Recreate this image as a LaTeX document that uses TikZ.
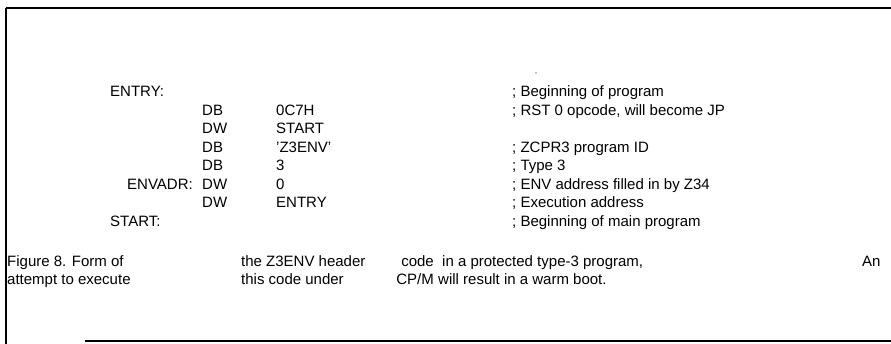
\documentclass[tikz,border=0pt]{standalone}
\usepackage{fontspec}
\setmainfont{Liberation Sans}
\usepackage{tikz}

\tikzset{
  asm/.style={anchor=base west, inner sep=0pt, font=\fontsize{15}{17}\selectfont},
  frameline/.style={line width=1.3pt, black}
}

\begin{document}
\begin{tikzpicture}[x=1pt,y=-1pt]
            % Page size
            \useasboundingbox (0,0) rectangle (891,344);

            % Frame (top, left and bottom rules of the scan)
            \draw[frameline] (6,8) -- (891,8);
            \draw[frameline] (6,8) -- (6,344);
            \draw[frameline] (85,341) -- (891,341);
            \fill (536,73) circle (0.6pt);

            % Label column
            \node[asm] (lentry) at (110,97) {ENTRY:};
            \node[asm] (lenvadr) at (127,190) {ENVADR:};
            \node[asm] (lstart) at (110,227) {START:};

            % Opcode column
            \node[asm] (op1) at (202,116) {DB};
            \node[asm] (op2) at (202,134) {DW};
            \node[asm] (op3) at (202,153) {DB};
            \node[asm] (op4) at (202,171) {DB};
            \node[asm] (op5) at (202,190) {DW};
            \node[asm] (op6) at (202,208) {DW};

            % Operand column
            \node[asm] (arg1) at (276,116) {0C7H};
            \node[asm] (arg2) at (276,134) {START};
            \node[asm] (arg3) at (276,153) {'Z3ENV'};
            \node[asm] (arg4) at (276,171) {3};
            \node[asm] (arg5) at (276,190) {0};
            \node[asm] (arg6) at (276,208) {ENTRY};

            % Comment column
            \node[asm] (cm0) at (512,97) {; Beginning of program};
            \node[asm] (cm1) at (512,116) {; RST 0 opcode, will become JP};
            \node[asm] (cm3) at (512,153) {; ZCPR3 program ID};
            \node[asm] (cm4) at (512,171) {; Type 3};
            \node[asm] (cm5) at (512,190) {; ENV address filled in by Z34};
            \node[asm] (cm6) at (512,208) {; Execution address};
            \node[asm] (cm7) at (512,227) {; Beginning of main program};

            % Caption
            \node[asm] (capa) at (7,267) {Figure 8. Form of};
            \node[asm] (capb) at (241,267) {the Z3ENV header};
            \node[asm, anchor=base east] (capc) at (434,267) {code};
            \node[asm] (capd) at (442,267) {in a protected type-3 program,};
            \node[asm] (cape) at (862,267) {An};
            \node[asm] (capf) at (7,285) {attempt to execute};
            \node[asm] (capg) at (241,285) {this code under};
            \node[asm, anchor=base east] (caph) at (434,285) {CP/M};
            \node[asm] (capi) at (438,285) {will result in a warm boot.};

        \end{tikzpicture}
\end{document}
